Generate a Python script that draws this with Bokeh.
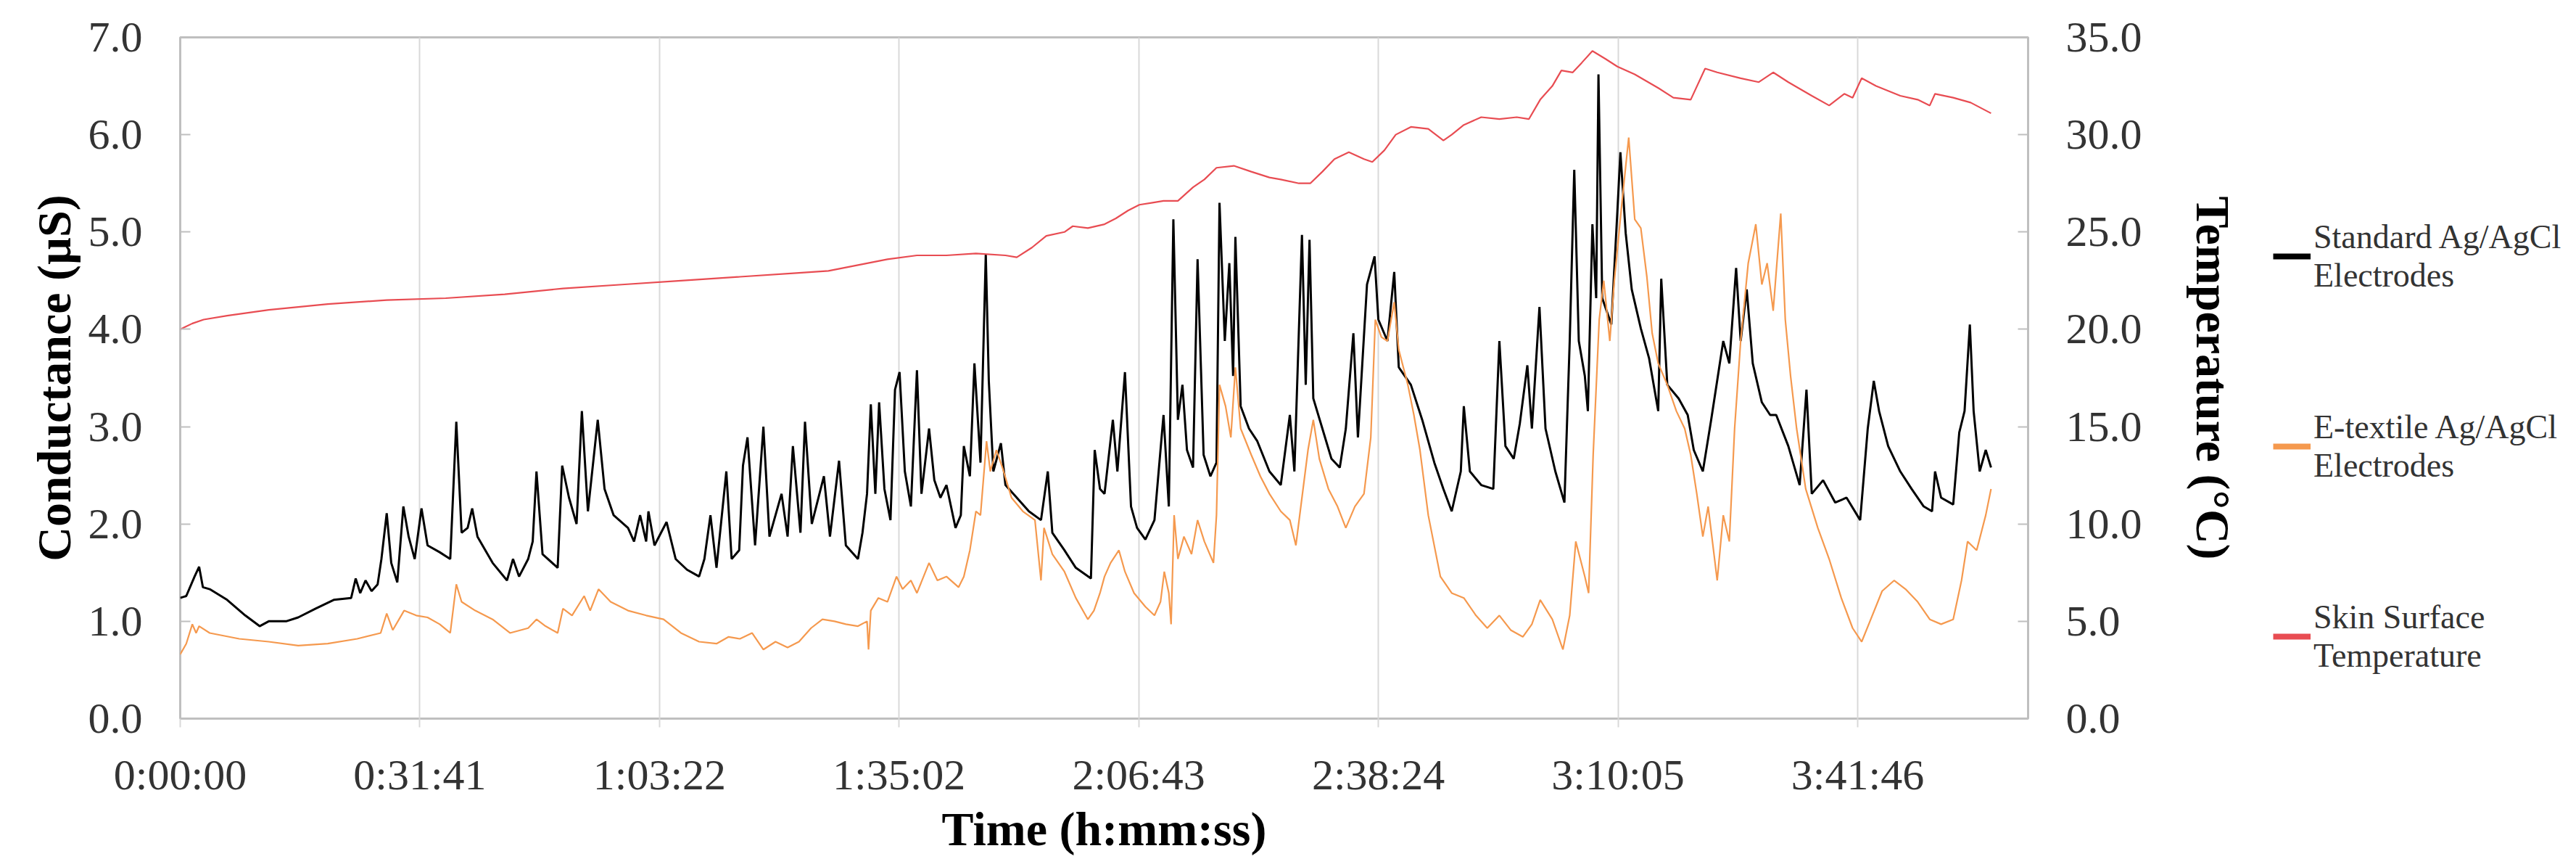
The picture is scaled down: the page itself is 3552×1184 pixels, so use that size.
from bokeh.plotting import figure
from bokeh.layouts import row
from bokeh.models import (Range1d, LinearAxis, FixedTicker, Legend, LegendItem,
                          ColumnDataSource, PrintfTickFormatter)
from bokeh.embed import file_html
from bokeh.resources import INLINE

# ---- data (time in minutes, value) ----
STANDARD = [
    (0.0,1.24),(0.8,1.26),(1.9,1.46),(2.5,1.56),(3.0,1.35),(3.9,1.33),(6.2,1.22),(8.6,1.06),
    (10.5,0.95),(11.7,1.00),(14.0,1.00),(15.6,1.04),(17.9,1.13),(20.3,1.22),(22.6,1.24),(23.2,1.44),
    (23.8,1.29),(24.5,1.42),(25.3,1.31),(26.1,1.38),(26.6,1.64),(27.3,2.11),(27.9,1.60),(28.7,1.40),
    (29.5,2.18),(30.2,1.87),(31.0,1.64),(31.9,2.16),(32.7,1.78),(34.3,1.71),(35.7,1.64),(36.5,3.05),
    (37.2,1.91),(38.0,1.96),(38.6,2.16),(39.3,1.87),(41.3,1.60),(43.2,1.42),(44.0,1.64),(44.8,1.46),
    (46.0,1.64),(46.6,1.82),(47.1,2.54),(47.9,1.69),(49.9,1.55),(50.5,2.60),(51.4,2.27),(52.4,2.00),
    (53.1,3.16),(53.9,2.13),(55.2,3.07),(56.1,2.36),(57.3,2.09),(59.2,1.96),(60.0,1.82),(60.8,2.09),
    (61.6,1.82),(61.9,2.13),(62.7,1.78),(64.3,2.02),(65.5,1.64),(67.0,1.53),(68.6,1.46),(69.3,1.64),
    (70.1,2.09),(70.9,1.55),(72.2,2.54),(72.9,1.64),(73.9,1.73),(74.4,2.60),(75.0,2.89),(76.0,1.78),
    (77.1,3.00),(77.9,1.87),(79.5,2.31),(80.3,1.87),(81.0,2.80),(82.0,1.91),(82.6,3.05),(83.5,2.00),
    (85.1,2.49),(85.9,1.87),(87.1,2.65),(88.0,1.78),(89.6,1.64),(90.2,1.91),(90.8,2.31),(91.3,3.23),
    (91.9,2.31),(92.4,3.25),(93.1,2.36),(93.9,2.04),(94.5,3.38),(95.1,3.56),(95.8,2.54),(96.6,2.18),
    (97.4,3.58),(98.0,2.31),(99.0,2.98),(99.7,2.45),(100.5,2.27),(101.3,2.40),(102.5,1.96),(103.2,2.09),
    (103.6,2.80),(104.4,2.49),(105.0,3.65),(105.8,2.63),(106.5,4.77),(106.9,3.47),(107.5,2.54),(108.5,2.83),
    (109.1,2.40),(110.6,2.27),(112.2,2.13),(113.8,2.04),(114.7,2.54),(115.3,1.91),(116.9,1.73),(118.4,1.55),
    (120.4,1.44),(120.9,2.76),(121.6,2.36),(122.2,2.31),(123.3,3.07),(123.9,2.54),(124.9,3.56),(125.7,2.18),
    (126.5,1.96),(127.6,1.84),(128.8,2.04),(130.0,3.12),(130.7,2.18),(131.3,5.13),(131.9,3.07),(132.5,3.43),
    (133.1,2.76),(133.9,2.58),(134.5,4.72),(135.3,2.71),(136.2,2.49),(137.0,2.63),(137.4,5.30),(138.1,3.88),
    (138.7,4.68),(139.2,3.52),(139.5,4.95),(140.2,3.21),(141.3,2.98),(142.4,2.85),(144.0,2.54),(145.5,2.40),
    (146.7,3.12),(147.3,2.54),(148.3,4.97),(148.8,3.43),(149.3,4.92),(149.8,3.29),(151.0,2.98),(152.2,2.67),
    (153.3,2.58),(154.1,2.98),(155.1,3.96),(155.7,2.89),(156.9,4.46),(157.9,4.75),(158.4,4.10),(159.6,3.88),
    (160.5,4.59),(161.1,3.61),(162.7,3.43),(164.2,3.07),(165.8,2.63),(167.0,2.36),(168.1,2.13),(169.3,2.54),
    (169.7,3.21),(170.5,2.54),(172.0,2.40),(173.6,2.36),(174.4,3.88),(175.2,2.80),(176.3,2.67),(177.1,3.03),
    (178.1,3.63),(178.7,2.98),(179.7,4.23),(180.5,2.98),(181.8,2.54),(183.0,2.22),(183.7,3.88),(184.3,5.64),
    (184.9,3.88),(185.7,3.52),(186.1,3.16),(186.7,5.08),(187.2,4.32),(187.5,6.62),(188.0,4.32),(189.2,4.05),
    (190.0,5.21),(190.4,5.82),(191.1,4.99),(191.9,4.41),(193.1,4.01),(194.2,3.70),(195.4,3.16),(195.8,4.52),
    (196.6,3.43),(198.1,3.29),(199.3,3.12),(200.1,2.76),(201.3,2.54),(202.4,3.07),(204.0,3.88),(204.8,3.65),
    (205.7,4.63),(206.3,3.88),(207.1,4.41),(207.9,3.65),(209.1,3.25),(210.2,3.12),(211.0,3.12),(212.6,2.80),
    (214.1,2.40),(215.0,3.38),(215.7,2.31),(217.2,2.45),(218.8,2.22),(220.3,2.27),(222.1,2.04),(223.1,2.98),
    (223.9,3.47),(224.6,3.16),(225.8,2.80),(227.4,2.54),(228.9,2.36),(230.5,2.18),(231.6,2.13),(232.0,2.54),
    (232.8,2.27),(234.4,2.20),(235.2,2.94),(235.9,3.16),(236.6,4.05),(237.1,3.16),(237.9,2.54),(238.7,2.76),
    (239.4,2.58),
]

ETEXTILE = [
    (0.0,0.66),(0.8,0.77),(1.6,0.97),(2.1,0.88),(2.5,0.95),(3.9,0.88),(7.8,0.82),(11.7,0.79),
    (15.6,0.75),(19.5,0.77),(23.4,0.82),(26.5,0.88),(27.3,1.08),(28.1,0.91),(29.6,1.11),(31.2,1.06),
    (32.7,1.04),(34.3,0.97),(35.7,0.88),(36.5,1.38),(37.2,1.20),(39.0,1.11),(41.3,1.02),(43.6,0.88),
    (46.0,0.93),(47.1,1.02),(48.3,0.95),(49.9,0.88),(50.6,1.13),(51.8,1.06),(53.4,1.26),(54.2,1.11),
    (55.3,1.33),(56.9,1.20),(59.2,1.11),(61.6,1.06),(63.9,1.02),(66.2,0.88),(68.6,0.79),(70.9,0.77),
    (72.5,0.84),(74.0,0.82),(75.6,0.88),(77.1,0.71),(78.7,0.79),(80.3,0.73),(81.8,0.79),(83.4,0.93),
    (84.9,1.02),(86.5,1.00),(88.0,0.97),(89.6,0.95),(90.8,1.00),(91.0,0.71),(91.3,1.11),(92.3,1.24),
    (93.5,1.20),(94.7,1.46),(95.5,1.33),(96.6,1.42),(97.4,1.29),(99.0,1.60),(100.1,1.42),(101.3,1.46),
    (102.9,1.35),(103.6,1.46),(104.4,1.73),(105.2,2.13),(105.8,2.09),(106.6,2.85),(107.1,2.54),(107.9,2.76),
    (108.7,2.58),(109.9,2.27),(111.4,2.13),(113.0,2.04),(113.8,1.42),(114.2,1.96),(115.3,1.69),(116.9,1.51),
    (118.4,1.24),(120.0,1.02),(120.8,1.11),(121.6,1.29),(122.2,1.46),(123.0,1.60),(124.1,1.73),(124.9,1.51),
    (126.1,1.29),(127.6,1.15),(128.8,1.06),(129.6,1.20),(130.1,1.51),(130.7,1.29),(131.0,0.97),(131.4,2.09),
    (131.9,1.64),(132.7,1.87),(133.7,1.69),(134.5,2.04),(135.4,1.82),(136.6,1.60),(137.0,2.09),(137.4,3.43),
    (138.2,3.21),(138.9,2.89),(139.5,3.61),(140.2,2.98),(141.6,2.71),(142.8,2.49),(144.0,2.31),(145.5,2.13),
    (146.7,2.04),(147.5,1.78),(148.3,2.27),(149.1,2.76),(149.8,3.07),(150.6,2.67),(151.8,2.36),(153.0,2.18),
    (154.1,1.96),(155.3,2.18),(156.5,2.31),(157.4,2.89),(158.0,4.10),(158.8,3.92),(159.6,3.88),(160.5,4.28),
    (161.1,3.79),(162.3,3.43),(163.1,3.12),(163.9,2.76),(165.0,2.09),(166.6,1.46),(168.1,1.29),(169.7,1.24),
    (171.3,1.06),(172.8,0.93),(174.4,1.06),(175.9,0.91),(177.5,0.84),(178.7,0.97),(179.8,1.22),(181.4,1.02),
    (182.8,0.71),(183.7,1.06),(184.5,1.82),(185.7,1.46),(186.2,1.29),(186.8,2.71),(187.6,4.10),(188.2,4.50),
    (189.0,3.88),(189.6,4.50),(190.6,5.30),(191.5,5.97),(192.3,5.13),(193.1,5.04),(193.9,4.54),(194.6,3.96),
    (195.4,3.65),(196.6,3.43),(197.8,3.16),(198.9,2.98),(199.7,2.71),(200.5,2.31),(201.3,1.87),(202.0,2.18),
    (203.2,1.42),(204.0,2.09),(204.8,1.82),(205.5,2.98),(206.3,3.88),(207.3,4.68),(208.3,5.08),(209.1,4.46),
    (209.8,4.68),(210.6,4.19),(211.6,5.19),(212.2,4.10),(212.9,3.52),(213.7,2.98),(214.9,2.36),(216.5,1.96),
    (218.0,1.64),(219.6,1.24),(221.1,0.93),(222.3,0.79),(223.5,1.02),(225.0,1.31),(226.6,1.42),(228.1,1.33),
    (229.7,1.20),(231.3,1.02),(232.8,0.97),(234.4,1.02),(235.5,1.42),(236.3,1.82),(237.5,1.73),(238.7,2.09),
    (239.4,2.36),
]

SKIN_TEMP = [
    (0.0,20.0),(1.6,20.3),(3.1,20.5),(6.2,20.7),(11.7,21.0),(19.5,21.3),(27.3,21.5),(35.1,21.6),
    (42.9,21.8),(50.6,22.1),(58.4,22.3),(66.2,22.5),(74.0,22.7),(81.8,22.9),(85.7,23.0),(89.6,23.3),
    (93.5,23.6),(97.4,23.8),(101.3,23.8),(105.2,23.9),(109.1,23.8),(110.6,23.7),(112.6,24.2),(114.5,24.8),
    (116.9,25.0),(118.0,25.3),(120.0,25.2),(122.2,25.4),(123.7,25.7),(125.3,26.1),(126.8,26.4),(128.4,26.5),
    (130.0,26.6),(131.9,26.6),(133.9,27.3),(135.4,27.7),(137.0,28.3),(139.3,28.4),(141.6,28.1),(144.0,27.8),
    (145.5,27.7),(147.9,27.5),(149.4,27.5),(151.0,28.1),(152.6,28.75),(154.5,29.1),(156.5,28.75),(157.6,28.6),
    (159.2,29.2),(160.7,30.0),(162.7,30.4),(165.0,30.3),(167.0,29.7),(168.1,30.0),(169.7,30.5),(172.0,30.9),
    (174.4,30.8),(176.7,30.9),(178.3,30.8),(179.8,31.8),(181.4,32.5),(182.6,33.3),(184.1,33.2),(185.3,33.7),
    (186.7,34.3),(188.4,33.9),(190.0,33.5),(192.3,33.1),(195.4,32.4),(197.4,31.9),(199.7,31.8),(201.6,33.4),
    (203.2,33.2),(206.3,32.9),(208.7,32.7),(210.6,33.2),(212.6,32.7),(215.7,32.0),(218.0,31.5),(220.0,32.1),
    (221.1,31.9),(222.3,32.9),(224.2,32.5),(227.4,32.0),(229.7,31.8),(231.3,31.5),(232.0,32.1),(234.4,31.9),
    (236.7,31.65),(239.4,31.1),
]

TIME_TICK_LABELS = ["0:00:00", "0:31:41", "1:03:22", "1:35:02", "2:06:43", "2:38:24", "3:10:05", "3:41:46"]
COND_TICKS = [0, 1, 2, 3, 4, 5, 6, 7]
TEMP_TICKS = [0, 5, 10, 15, 20, 25, 30, 35]
X_END_MIN = 244.3

LEGEND_LABELS = ["Standard Ag/AgCl\nElectrodes", "E-textile Ag/AgCl\nElectrodes", "Skin Surface\nTemperature"]
COLORS = ["#000000", "#F5994E", "#E84C52"]

FONT = "Liberation Serif"


def to_src(pairs):
    return ColumnDataSource(dict(t=[a * 60.0 for a, b in pairs], v=[b for a, b in pairs]))


def hms(s):
    h, m, sec = s.split(":")
    return int(h) * 3600 + int(m) * 60 + int(sec)


tick_secs = [hms(s) for s in TIME_TICK_LABELS]

MAIN_RIGHT = 300
p = figure(frame_width=2548, frame_height=939,
           min_border_left=248, min_border_right=MAIN_RIGHT, min_border_top=51, min_border_bottom=178,
           x_range=Range1d(0, X_END_MIN * 60), y_range=Range1d(0, 7),
           output_backend="svg", toolbar_location=None)
p.extra_y_ranges = {"temp": Range1d(0, 35)}
p.background_fill_color = "white"
p.border_fill_color = "white"
p.outline_line_color = "#BFBFBF"
p.outline_line_width = 3

# grids
p.xgrid.ticker = FixedTicker(ticks=tick_secs)
p.xgrid.grid_line_color = "#D9D9D9"
p.xgrid.grid_line_width = 2
p.ygrid.grid_line_color = None

# x axis
xa = p.xaxis[0]
xa.ticker = FixedTicker(ticks=tick_secs)
xa.major_label_overrides = {t: s for t, s in zip(tick_secs, TIME_TICK_LABELS)}
xa.axis_label = "Time (h:mm:ss)"

# left axis
ya = p.yaxis[0]
ya.ticker = FixedTicker(ticks=COND_TICKS)
ya.formatter = PrintfTickFormatter(format="%.1f")
ya.axis_label = "Conductance (µS)"

# right axis
ra = LinearAxis(y_range_name="temp", ticker=FixedTicker(ticks=TEMP_TICKS),
                formatter=PrintfTickFormatter(format="%.1f"), axis_label="Temperature (°C)")
p.add_layout(ra, "right")

for ax in (xa, ya, ra):
    ax.axis_line_color = None
    ax.minor_tick_line_color = None
    ax.major_label_text_font = FONT
    ax.major_label_text_font_size = "60px"
    ax.major_label_text_color = "#333333"
    ax.axis_label_text_font = FONT
    ax.axis_label_text_font_style = "bold"
    ax.axis_label_text_font_size = "66px"
    ax.axis_label_text_color = "#000000"
    ax.major_tick_line_color = "#BFBFBF"
    ax.major_tick_line_width = 2

xa.major_tick_in = 0
xa.major_tick_out = 12
xa.major_tick_line_color = "#D9D9D9"
xa.major_label_standoff = 32
xa.axis_label_standoff = 2

for ax in (ya, ra):
    ax.major_tick_in = 14
    ax.major_tick_out = 0
    ax.major_label_standoff = 52

ya.axis_label_standoff = 8
ra.axis_label_standoff = 58

# data lines
p.line("t", "v", source=to_src(STANDARD), line_color=COLORS[0], line_width=3)
p.line("t", "v", source=to_src(ETEXTILE), line_color=COLORS[1], line_width=2.2)
p.line("t", "v", source=to_src(SKIN_TEMP), line_color=COLORS[2], line_width=2.2, y_range_name="temp")

# ---- legend panel (separate figure to the right of the chart) ----
LEG_W = 3536 - (248 + 2548 + MAIN_RIGHT)
lf = figure(width=LEG_W, height=1168, min_border=0, x_range=Range1d(0, 1), y_range=Range1d(0, 1),
            x_axis_location=None, y_axis_location=None,
            output_backend="svg", toolbar_location=None)
lf.outline_line_color = None
lf.grid.grid_line_color = None
lf.background_fill_color = "white"
lf.border_fill_color = "white"

swatches = [lf.line(x=[float("nan")], y=[float("nan")], line_color=c, line_width=8) for c in COLORS]
legend = Legend(items=[LegendItem(label=lab, renderers=[r]) for lab, r in zip(LEGEND_LABELS, swatches)],
                location=(38, 47))
legend.label_text_font = FONT
legend.label_text_font_size = "46px"
legend.label_text_color = "#333333"
legend.label_text_line_height = 1.02
legend.glyph_width = 52
legend.glyph_height = 44
legend.label_standoff = 4
legend.spacing = 156
legend.padding = 0
legend.margin = 0
legend.border_line_color = None
legend.background_fill_alpha = 0
lf.add_layout(legend, "center")

layout = row(p, lf)
open("out.html", "w").write(file_html(layout, INLINE))
